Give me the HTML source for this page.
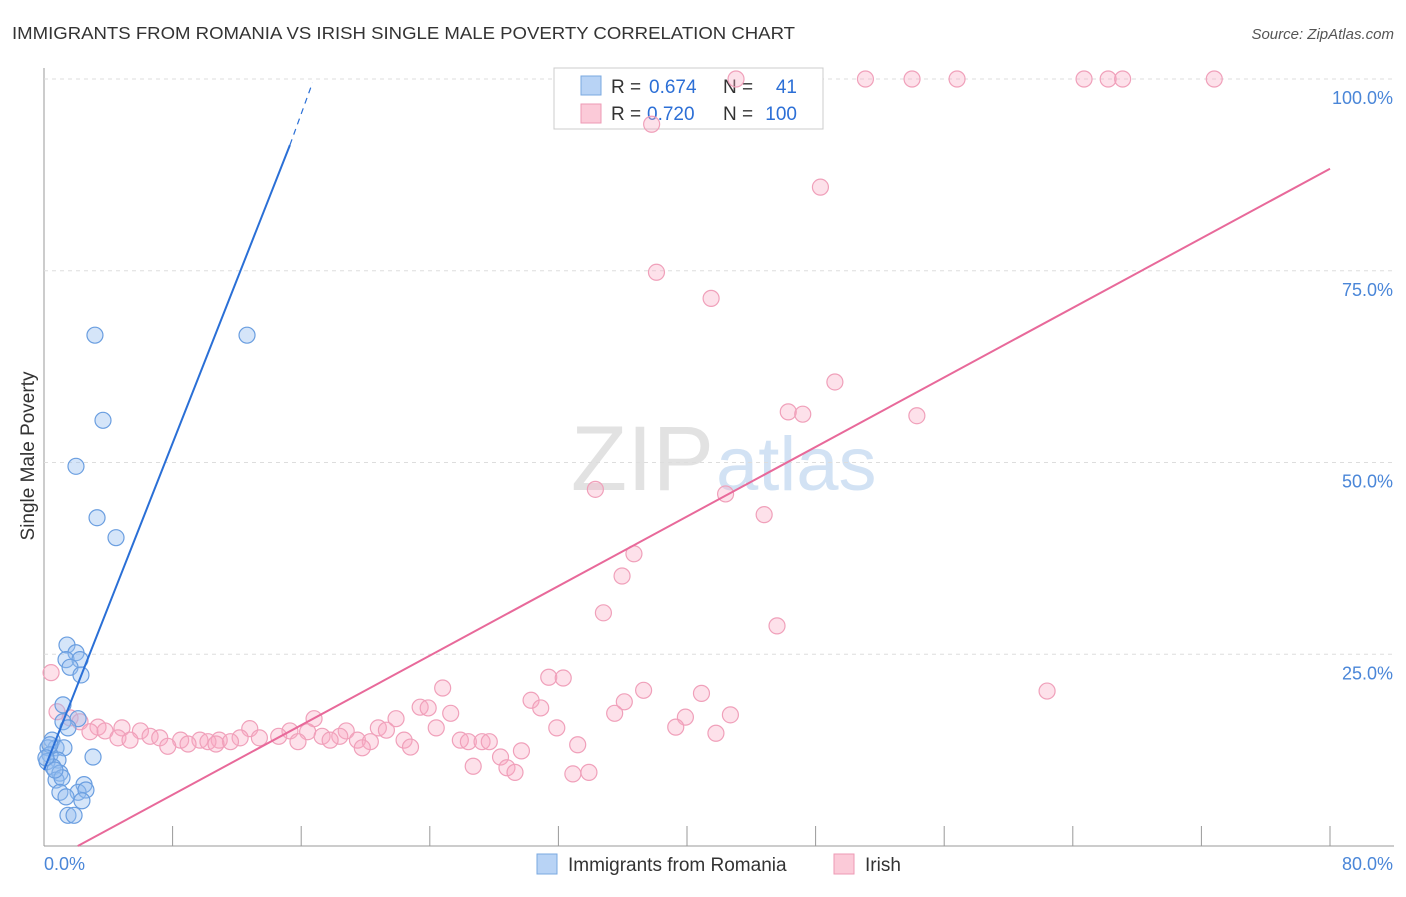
<!DOCTYPE html>
<html><head><meta charset="utf-8"><style>
body{margin:0;background:#fff;font-family:"Liberation Sans",sans-serif;}
svg text{font-family:"Liberation Sans",sans-serif;}
</style></head><body>
<svg id="c" width="1406" height="892" xmlns="http://www.w3.org/2000/svg">
<text x="12" y="39" font-size="17.5" fill="#333" textLength="783" lengthAdjust="spacingAndGlyphs">IMMIGRANTS FROM ROMANIA VS IRISH SINGLE MALE POVERTY CORRELATION CHART</text>
<text x="1394" y="39" font-size="15" fill="#555" font-style="italic" text-anchor="end">Source: ZipAtlas.com</text>
<text x="714" y="490" font-size="92" fill="#e2e2e2" text-anchor="end" font-family="Liberation Serif">ZIP</text>
<text x="716" y="490" font-size="76" fill="#d2e2f4">atlas</text>
<text transform="translate(34,456) rotate(-90)" font-size="19" fill="#333" text-anchor="middle">Single Male Poverty</text>
<g id="grid"></g>
<g>
<rect x="554" y="68" width="269" height="61" fill="#fff" stroke="#ccc"/>
<rect x="581" y="76" width="20" height="19" fill="#b8d3f5" stroke="#7aa8e0"/>
<rect x="581" y="104" width="20" height="19" fill="#fbcad8" stroke="#ee9ab4"/>
<text x="611" y="93" font-size="19" fill="#333">R =</text>
<text x="649" y="93" font-size="19" fill="#2c6fd6">0.674</text>
<text x="723" y="93" font-size="19" fill="#333">N =</text>
<text x="797" y="93" font-size="19" fill="#2c6fd6" text-anchor="end">41</text>
<text x="611" y="120" font-size="19" fill="#333">R =</text>
<text x="647" y="120" font-size="19" fill="#2c6fd6">0.720</text>
<text x="723" y="120" font-size="19" fill="#333">N =</text>
<text x="797" y="120" font-size="19" fill="#2c6fd6" text-anchor="end">100</text>
</g>
<g id="pts"></g><g id="lines"></g>
<g>
<rect x="537" y="854" width="20" height="20" fill="#b8d3f5" stroke="#7aa8e0"/>
<text x="568" y="871" font-size="19" fill="#333">Immigrants from Romania</text>
<rect x="834" y="854" width="20" height="20" fill="#fbcad8" stroke="#ee9ab4"/>
<text x="865" y="871" font-size="19" fill="#333">Irish</text>
</g>
</svg>
<script>
const blueX=[3.17,12.63,3.67,1.99,3.30,4.48,1.43,1.99,1.37,2.24,1.62,2.30,1.18,1.18,2.12,1.49,0.50,0.75,0.25,1.24,0.37,0.87,0.19,3.05,0.56,0.99,0.75,2.49,1.12,0.99,2.12,2.61,1.37,2.36,1.49,1.87,0.37,0.12,0.68];
const blueY=[66.6,66.6,55.5,49.5,42.8,40.2,26.2,25.2,24.3,24.3,23.3,22.3,18.4,16.2,16.6,15.4,13.8,12.8,12.8,12.8,11.9,11.2,11.0,11.6,10.3,9.5,8.6,8.0,8.9,7.0,7.0,7.3,6.4,5.9,4.0,4.0,13.2,11.5,9.9];
const pinkX=[43.05,51.1,54.0,56.8,64.7,66.2,67.1,72.8,37.8,48.3,38.1,41.5,49.2,46.3,47.2,54.3,34.3,42.4,44.8,36.7,35.96,34.8,45.6,62.4,0.44,24.8,31.4,32.3,37.3,40.9,30.3,36.1,30.9,23.4,23.9,25.3,35.5,42.7,39.9,16.8,21.9,0.81,1.62,2.24,39.3,31.9,24.4,20.8,21.3,18.8,12.8,4.85,3.36,2.86,3.8,6.0,15.3,16.4,41.8,6.6,4.6,5.35,7.2,8.5,9.7,10.9,12.2,13.4,14.6,17.3,18.4,19.5,20.3,17.8,15.8,22.4,25.9,26.4,27.25,27.7,7.7,8.96,10.2,11.6,10.7,19.8,22.8,33.2,29.7,28.4,26.7,28.8,29.3,32.9,33.9];
const pinkY=[100,100,100,100,100,100,100,100,94.1,85.9,74.8,71.4,60.5,56.6,56.3,56.1,46.5,45.9,43.2,38.1,35.2,30.4,28.7,20.2,22.6,20.6,22.0,21.9,20.3,19.9,19.0,18.8,18.0,18.1,18.0,17.3,17.3,17.1,16.8,16.6,16.6,17.5,16.7,16.2,15.5,15.4,15.4,15.4,15.1,15.0,15.3,15.4,15.5,14.9,15.0,15.0,15.0,14.9,14.7,14.3,14.1,13.8,14.1,13.8,13.8,13.8,14.1,14.1,14.3,14.3,14.3,13.8,13.6,13.8,13.6,13.8,13.8,13.6,13.6,13.6,13.0,13.3,13.6,13.6,13.3,12.8,12.9,13.2,12.4,11.6,10.4,10.2,9.6,9.4,9.6];
const yTicks=[25,50,75,100];
const yTickLabels=["25.0%","50.0%","75.0%","100.0%"];
const blueLine=[[0,9.9],[15.3,91.4],[16.7,99.5]];
const pinkLine=[[2.1,0],[80,88.3]];
const X=v=>44+v*16.075, Y=v=>846-v*7.67;
const NS="http://www.w3.org/2000/svg";
function mk(t,a,p){const e=document.createElementNS(NS,t);for(const k in a)e.setAttribute(k,a[k]);p.appendChild(e);return e;}
const g=document.getElementById('grid');
const ax=mk('line',{x1:44,y1:68,x2:44,y2:846,stroke:'#999'},g);


const bx=mk('line',{x1:44,y1:846,x2:1394,y2:846,stroke:'#999'},g);


yTicks.forEach((t,i)=>{
 const l=mk('line',{x1:44,y1:Y(t),x2:1394,y2:Y(t),stroke:'#ddd','stroke-dasharray':'4,4'},g);
 
 
 const tx=mk('text',{x:1393,y:Y(t)+25,'font-size':18,fill:'#4a86d8','text-anchor':'end'},g);
 tx.textContent=yTickLabels[i];
 
 
});
for(let i=1;i<=10;i++){
 const l=mk('line',{x1:X(i*8),y1:826,x2:X(i*8),y2:846,stroke:'#999'},g);
 
 
}
const x0=mk('text',{x:44,y:870,'font-size':18,fill:'#4a86d8'},g);x0.textContent='0.0%';


const x1=mk('text',{x:1393,y:870,'font-size':18,fill:'#4a86d8','text-anchor':'end'},g);x1.textContent='80.0%';


const P=document.getElementById('pts');
pinkX.forEach((x,i)=>{const c=mk('circle',{cx:X(x),cy:Y(pinkY[i]),r:8,fill:'rgba(248,170,195,0.35)',stroke:'#f0a0ba','stroke-width':1.2},P);
 
 });
blueX.forEach((x,i)=>{const c=mk('circle',{cx:X(x),cy:Y(blueY[i]),r:8,fill:'rgba(150,190,240,0.4)',stroke:'#6a9ee0','stroke-width':1.2},P);
 
 });
const L=document.getElementById('lines');
const b1=mk('line',{x1:X(blueLine[0][0]),y1:Y(blueLine[0][1]),x2:X(blueLine[1][0]),y2:Y(blueLine[1][1]),stroke:'#2a6fd6','stroke-width':2},L);


const b2=mk('line',{x1:X(blueLine[1][0]),y1:Y(blueLine[1][1]),x2:X(blueLine[2][0]),y2:Y(blueLine[2][1]),stroke:'#2a6fd6','stroke-width':1.2,'stroke-dasharray':'6,5'},L);


const p1=mk('line',{x1:X(pinkLine[0][0]),y1:Y(pinkLine[0][1]),x2:X(pinkLine[1][0]),y2:Y(pinkLine[1][1]),stroke:'#e8699a','stroke-width':2},L);


</script>
</body></html>
